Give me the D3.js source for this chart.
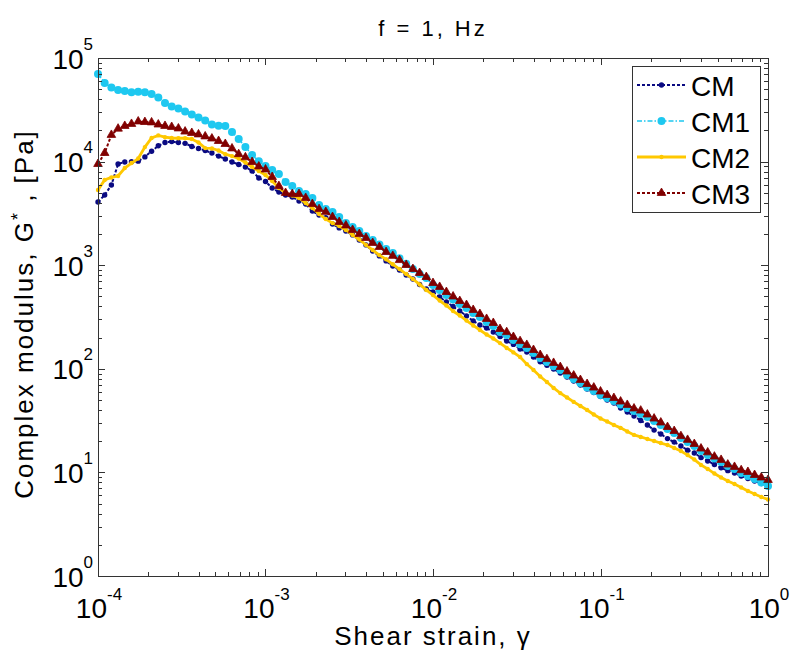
<!DOCTYPE html>
<html>
<head>
<meta charset="utf-8">
<script src="https://cdn.jsdelivr.net/npm/d3@7"></script>
<style>
  body { margin: 0; background: #fff; }
  svg { display: block; }
  text { font-family: "Liberation Sans", Arial, sans-serif; fill: #000; }
</style>
</head>
<body>
<svg width="793" height="653"></svg>
<script>
// shear strain (same grid for all samples)
var strain = [
  1.000e-4, 1.096e-4, 1.202e-4, 1.318e-4, 1.445e-4, 1.585e-4, 1.738e-4, 1.905e-4, 2.089e-4, 2.291e-4,
  2.512e-4, 2.754e-4, 3.020e-4, 3.311e-4, 3.631e-4, 3.981e-4, 4.365e-4, 4.786e-4, 5.248e-4, 5.754e-4,
  6.310e-4, 6.918e-4, 7.586e-4, 8.318e-4, 9.120e-4,
  1.000e-3, 1.096e-3, 1.202e-3, 1.318e-3, 1.445e-3, 1.585e-3, 1.738e-3, 1.905e-3, 2.089e-3, 2.291e-3,
  2.512e-3, 2.754e-3, 3.020e-3, 3.311e-3, 3.631e-3, 3.981e-3, 4.365e-3, 4.786e-3, 5.248e-3, 5.754e-3,
  6.310e-3, 6.918e-3, 7.586e-3, 8.318e-3, 9.120e-3,
  1.000e-2, 1.096e-2, 1.202e-2, 1.318e-2, 1.445e-2, 1.585e-2, 1.738e-2, 1.905e-2, 2.089e-2, 2.291e-2,
  2.512e-2, 2.754e-2, 3.020e-2, 3.311e-2, 3.631e-2, 3.981e-2, 4.365e-2, 4.786e-2, 5.248e-2, 5.754e-2,
  6.310e-2, 6.918e-2, 7.586e-2, 8.318e-2, 9.120e-2,
  1.000e-1, 1.096e-1, 1.202e-1, 1.318e-1, 1.445e-1, 1.585e-1, 1.738e-1, 1.905e-1, 2.089e-1, 2.291e-1,
  2.512e-1, 2.754e-1, 3.020e-1, 3.311e-1, 3.631e-1, 3.981e-1, 4.365e-1, 4.786e-1, 5.248e-1, 5.754e-1,
  6.310e-1, 6.918e-1, 7.586e-1, 8.318e-1, 9.120e-1,
  1.000
];

// complex modulus G* [Pa]
var gCM = [
  4070, 4760, 5940, 9480, 9910, 9980, 10100, 11100, 12600, 14200,
  15300, 15600, 15300, 15000, 14000, 13400, 12800, 12100, 11300, 10600,
  9910, 9380, 8870, 8110, 6950,
  6430, 5560, 5090, 4760, 4550, 4170, 3900, 3330, 3050, 2880,
  2500, 2290, 2140, 1960, 1750, 1570, 1370, 1230, 1100, 982,
  899, 804, 736, 652, 589,
  551, 493, 442, 399, 361, 324, 289, 265, 248, 226,
  205, 185, 172, 155, 145, 130, 117, 108, 99.5, 91.0,
  83.4, 76.2, 69.8, 63.8, 59.0,
  54.1, 50.0, 46.8, 41.9, 38.3, 35.0, 31.7, 28.7, 25.6, 23.5,
  21.2, 19.6, 18.0, 16.4, 15.4, 13.9, 12.9, 11.9, 11.1, 10.4,
  9.86, 9.23, 8.73, 8.26, 7.82,
  7.40
];
var gCM1 = [
  70200, 57400, 51900, 49100, 48000, 46700, 47300, 46700, 44900, 41600,
  36800, 34000, 32600, 30500, 28500, 26700, 24900, 22800, 22200, 22100,
  19300, 16500, 13800, 11600, 10100,
  9080, 8300, 7590, 6350, 5810, 5200, 4860, 4460, 3810, 3480,
  3270, 2920, 2550, 2340, 2140, 1910, 1750, 1585, 1430, 1310,
  1170, 1030, 918, 822, 752,
  644, 577, 515, 467, 422, 386, 346, 316, 283, 259,
  226, 212, 190, 173, 159, 142, 127, 116, 106, 97.3,
  87.1, 79.8, 72.9, 65.9, 61.1,
  55.8, 52.2, 48.9, 45.2, 41.9, 39.2, 36.6, 34.3, 31.3, 28.7,
  26.2, 24.0, 21.5, 19.6, 18.0, 16.1, 14.7, 13.6, 12.6, 11.5,
  10.8, 9.86, 9.23, 8.63, 8.00,
  7.40
];
var gCM2 = [
  5320, 6640, 7030, 7260, 8670, 9680, 10700, 13800, 16900, 17900,
  17200, 16900, 16800, 16800, 16500, 15300, 13500, 13400, 12800, 11800,
  11300, 10700, 9800, 8870, 8110,
  7430, 6500, 5560, 4980, 4710, 4460, 3980, 3560, 3120, 2790,
  2550, 2390, 2190, 1960, 1770, 1570, 1400, 1250, 1140, 1020,
  918, 822, 736, 652, 577,
  515, 456, 408, 361, 327, 292, 262, 237, 214, 196,
  177, 159, 144, 130, 111, 97.3, 84.3, 74.6, 65.3, 58.3,
  52.8, 47.9, 43.8, 40.0, 36.2,
  33.1, 31.0, 28.7, 26.9, 24.8, 23.0, 22.0, 21.0, 20.1, 19.2,
  18.4, 17.2, 16.1, 14.7, 13.3, 11.8, 10.8, 9.75, 8.93, 8.26,
  7.73, 7.14, 6.61, 6.19, 5.79,
  5.47
];
var gCM3 = [
  9480, 12100, 18100, 20800, 22100, 23100, 24400, 24100, 23900, 22800,
  22100, 21600, 20900, 19500, 18900, 18300, 17500, 16700, 15800, 14800,
  13400, 11800, 11000, 9910, 8970,
  8390, 7100, 5810, 4980, 4860, 4860, 4460, 3900, 3480, 3270,
  2920, 2610, 2420, 2190, 2000, 1830, 1640, 1500, 1340, 1230,
  1120, 1005, 918, 841, 769,
  673, 617, 551, 499, 451, 413, 370, 338, 303, 277,
  242, 226, 203, 185, 170, 152, 136, 124, 114, 104,
  94.2, 86.1, 78.0, 71.3, 65.9,
  60.4, 55.8, 52.2, 48.3, 44.8, 41.4, 39.5, 36.2, 33.1, 30.3,
  27.4, 25.1, 22.4, 20.6, 18.8, 17.0, 15.6, 14.2, 13.2, 11.9,
  11.3, 10.5, 10.1, 9.44, 8.93,
  8.45
];

var seriesNames = ["CM", "CM1", "CM2", "CM3"];
var xTickExp = [-4, -3, -2, -1, 0];
var yTickExp = [0, 1, 2, 3, 4, 5];

var styles = {
  CM:  {color: "#0a0a82", width: 2,   dash: "3,2",       marker: "circle",   r: 2.7},
  CM1: {color: "#1ec8f0", width: 1.5, dash: "5,2,1.5,2", marker: "circle",   r: 4},
  CM2: {color: "#ffc800", width: 2.8, dash: null,        marker: "circle",   r: 2.2},
  CM3: {color: "#800000", width: 2,   dash: "3,2",       marker: "triangle", r: 32}
};

var margin = {left: 98, right: 768, top: 58, bottom: 576};
var axisColor = "#333";

var svg = d3.select("svg");

var x = d3.scaleLog().domain([1e-4, 1]).range([margin.left, margin.right]);
var y = d3.scaleLog().domain([1, 1e5]).range([margin.bottom, margin.top]);

function isMajor(v) {
  var l = Math.log10(v);
  return Math.abs(l - Math.round(l)) < 1e-9;
}

var seriesData = {
  CM: strain.map(function (s, i) { return [s, gCM[i]]; }),
  CM1: strain.map(function (s, i) { return [s, gCM1[i]]; }),
  CM2: strain.map(function (s, i) { return [s, gCM2[i]]; }),
  CM3: strain.map(function (s, i) { return [s, gCM3[i]]; })
};

var line = d3.line()
  .x(function (d) { return x(d[0]); })
  .y(function (d) { return y(d[1]); });

var triangle = d3.symbol().type(d3.symbolTriangle);

// r is the radius for circles, the symbol area for triangles
function drawMarker(sel, st) {
  if (st.marker === "triangle") {
    sel.append("path")
      .attr("d", triangle.size(st.r)())
      .attr("fill", st.color)
      .attr("stroke", st.color)
      .attr("stroke-width", 0.8);
  } else {
    sel.append("circle")
      .attr("r", st.r)
      .attr("fill", st.color);
  }
}

var plot = svg.append("g");
seriesNames.forEach(function (name) {
  var st = styles[name];
  plot.append("path")
    .datum(seriesData[name])
    .attr("fill", "none")
    .attr("stroke", st.color)
    .attr("stroke-width", st.width)
    .attr("stroke-dasharray", st.dash)
    .attr("d", line);
  plot.append("g")
    .selectAll("g")
    .data(seriesData[name])
    .enter().append("g")
    .attr("transform", function (d) { return "translate(" + x(d[0]) + "," + y(d[1]) + ")"; })
    .each(function () { drawMarker(d3.select(this), st); });
});

// frame and inward ticks on all four sides
var ax = svg.append("g").attr("stroke", axisColor).attr("stroke-width", 1).attr("fill", "none");
ax.append("rect")
  .attr("x", margin.left + 0.5).attr("y", margin.top + 0.5)
  .attr("width", margin.right - margin.left).attr("height", margin.bottom - margin.top);

x.ticks().forEach(function (v) {
  var len = isMajor(v) ? 7 : 4;
  var px = Math.round(x(v)) + 0.5;
  ax.append("line").attr("x1", px).attr("x2", px).attr("y1", margin.bottom).attr("y2", margin.bottom - len);
  ax.append("line").attr("x1", px).attr("x2", px).attr("y1", margin.top).attr("y2", margin.top + len);
});
y.ticks().forEach(function (v) {
  var len = isMajor(v) ? 7 : 4;
  var py = Math.round(y(v)) + 0.5;
  ax.append("line").attr("y1", py).attr("y2", py).attr("x1", margin.left).attr("x2", margin.left + len);
  ax.append("line").attr("y1", py).attr("y2", py).attr("x1", margin.right).attr("x2", margin.right - len);
});

// tick labels
xTickExp.forEach(function (e) {
  var t = svg.append("text")
    .attr("x", x(Math.pow(10, e)) + 1)
    .attr("y", 618)
    .attr("text-anchor", "middle")
    .style("font-size", "28px");
  t.append("tspan").text("10");
  t.append("tspan").attr("dy", -18).style("font-size", "17px").text(e);
});
yTickExp.forEach(function (e) {
  var t = svg.append("text")
    .attr("x", 93)
    .attr("y", y(Math.pow(10, e)) + 10.5)
    .attr("text-anchor", "end")
    .style("font-size", "28px");
  t.append("tspan").text("10");
  t.append("tspan").attr("dy", -19).style("font-size", "17px").text(e);
});

// title and axis labels
svg.append("text")
  .attr("x", 433).attr("y", 36)
  .attr("text-anchor", "middle")
  .style("font-size", "22px")
  .style("letter-spacing", "3px")
  .text("f = 1, Hz");

svg.append("text")
  .attr("x", 433).attr("y", 645)
  .attr("text-anchor", "middle")
  .style("font-size", "26px")
  .style("letter-spacing", "2px")
  .text("Shear strain, \u03b3");

var yl = svg.append("text")
  .attr("transform", "translate(33,314) rotate(-90)")
  .attr("text-anchor", "middle")
  .style("font-size", "26px")
  .style("letter-spacing", "2px");
yl.append("tspan").text("Complex modulus, G");
yl.append("tspan").attr("dy", -9).style("font-size", "18px").text("*");
yl.append("tspan").attr("dy", 9).text(" , [Pa]");

// legend
var lg = svg.append("g");
lg.append("rect")
  .attr("x", 632.5).attr("y", 66.5)
  .attr("width", 128).attr("height", 146)
  .attr("fill", "#fff")
  .attr("stroke", axisColor);
seriesNames.forEach(function (name, i) {
  var st = styles[name];
  var ly = 85 + 36 * i;
  lg.append("line")
    .attr("x1", 637).attr("x2", 686)
    .attr("y1", ly).attr("y2", ly)
    .attr("stroke", st.color)
    .attr("stroke-width", st.width)
    .attr("stroke-dasharray", st.dash);
  drawMarker(lg.append("g").attr("transform", "translate(661.5," + ly + ")"), st);
  lg.append("text")
    .attr("x", 691).attr("y", ly + 10.5)
    .style("font-size", "28px")
    .text(name);
});
</script>
</body>
</html>
